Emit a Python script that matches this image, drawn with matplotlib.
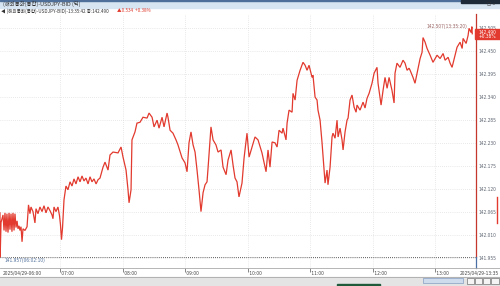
import matplotlib
matplotlib.use("Agg")
import matplotlib.pyplot as plt
from matplotlib.patches import Rectangle
from matplotlib.lines import Line2D
from matplotlib import font_manager

# USDJPY bid ticks, time = minutes after 06:00
t_min = [
    2.0, 2.17, 2.6, 3.0, 4.9, 5.9, 6.8, 7.8, 8.7, 9.7, 10.7, 11.6, 12.6, 13.5, 14.5, 15.5,
    16.4, 17.4, 18.4, 19.3, 20.3, 21.2, 22.2, 23.2, 24.1, 26.0, 28.0, 29.4, 30.8, 31.8,
    33.7, 35.6, 36.6, 38.5, 40.4, 42.4, 44.3, 46.2, 48.1, 50.1, 52.0, 52.9, 53.9, 55.8,
    57.7, 59.2, 60.1, 61.1, 62.1, 63.5,
    65.4, 67.3, 69.3, 71.2, 73.1, 75.0, 77.0, 78.9, 80.8, 82.7, 84.6, 86.6, 88.5, 90.4,
    92.3, 94.3, 96.2, 98.1,
    101.0, 102.9, 105.8, 107.7, 110.6, 115.4, 118.3, 120.2, 123.1, 125.0, 126.0, 127.9,
    128.8, 131.7, 133.6, 136.5, 139.4, 143.3, 145.2, 148.1, 150.0, 152.9, 154.8, 157.7,
    159.6, 162.5, 163.4, 165.4, 168.2, 171.1, 173.0, 176.9, 179.8, 181.7, 183.6, 185.5,
    187.5, 189.4, 191.3, 193.2, 195.1, 197.1, 199.0, 200.9, 201.9, 204.7, 206.7, 209.5,
    211.5, 214.4, 216.3, 219.2, 221.1, 224.0, 225.9, 227.8, 229.7, 231.6, 234.5, 236.5,
    239.3, 241.3,
    247.0, 249.9, 253.7, 256.6, 257.6, 259.5, 261.4, 263.4, 266.2, 268.2, 270.1, 273.0,
    273.9, 276.8, 277.8, 279.7, 282.6, 283.5, 285.5, 287.4, 290.3, 293.1, 295.1, 297.0,
    298.9, 301.8, 302.7, 304.7, 306.6, 307.5, 309.5, 311.4, 312.3, 314.3, 316.2, 317.1,
    319.1, 321.0, 321.9, 323.9, 325.8, 326.8, 328.7, 330.6, 331.6, 333.5, 335.4, 336.4,
    338.3, 340.2, 342.2, 344.1, 345.0, 347.9, 350.8, 352.7, 354.6, 356.6, 359.4, 361.4,
    364.2, 365.2, 368.1, 370.0, 371.9, 373.9, 375.8, 378.6, 380.6, 381.5, 383.4, 386.3,
    389.2, 391.1, 393.1, 395.0,
    396.0, 398.8, 400.7, 402.7, 405.6, 407.5, 408.4, 410.4, 412.3, 415.2, 418.0, 421.9,
    424.8, 427.7, 429.6, 432.5, 434.4, 436.3, 439.2, 441.1, 444.0, 446.0, 446.9, 449.8,
    451.7, 452.6, 454.6, 455.33, 455.7,
]
bid = [
    142.063, 141.957, 141.999, 142.040, 142.058, 142.021, 142.063, 142.018, 142.061, 142.016,
    142.063, 142.023, 142.061, 142.018, 142.063, 142.021, 142.061, 142.028, 142.044, 142.025,
    142.032, 142.021, 142.030, 141.994, 142.025, 142.021, 142.030, 142.082, 142.061, 142.077,
    142.066, 142.039, 142.073, 142.061, 142.077, 142.066, 142.080, 142.063, 142.077, 142.068,
    142.058, 142.049, 142.077, 142.066, 142.077, 142.056, 142.035, 141.999, 142.028, 142.094,
    142.127, 142.118, 142.137, 142.127, 142.144, 142.132, 142.149, 142.137, 142.151, 142.139,
    142.146, 142.132, 142.149, 142.137, 142.144, 142.132, 142.142, 142.146,
    142.172, 142.184, 142.165, 142.201, 142.208, 142.206, 142.220, 142.196, 142.165, 142.118,
    142.087, 142.118, 142.237, 142.256, 142.277, 142.279, 142.291, 142.289, 142.301, 142.291,
    142.268, 142.284, 142.265, 142.291, 142.268, 142.301, 142.291, 142.260, 142.253, 142.237,
    142.225, 142.194, 142.182, 142.161, 142.230, 142.256, 142.225, 142.208, 142.165, 142.118,
    142.066, 142.111, 142.130, 142.137, 142.170, 142.268, 142.237, 142.225, 142.208, 142.213,
    142.172, 142.154, 142.189, 142.213, 142.177, 142.146, 142.137, 142.101, 142.134, 142.194,
    142.253, 142.196,
    142.244, 142.237, 142.206, 142.172, 142.161, 142.213, 142.172, 142.232, 142.230, 142.220,
    142.260, 142.253, 142.265, 142.237, 142.277, 142.308, 142.303, 142.348, 142.332, 142.379,
    142.403, 142.422, 142.415, 142.403, 142.415, 142.386, 142.391, 142.339, 142.332, 142.308,
    142.284, 142.230, 142.201, 142.134, 142.165, 142.130, 142.172, 142.244, 142.253, 142.241,
    142.284, 142.244, 142.265, 142.237, 142.213, 142.256, 142.284, 142.289, 142.332, 142.344,
    142.315, 142.303, 142.320, 142.308, 142.327, 142.313, 142.336, 142.348, 142.372, 142.396,
    142.410, 142.372, 142.320, 142.355, 142.386, 142.360, 142.386, 142.355, 142.325, 142.396,
    142.420, 142.410, 142.427, 142.420, 142.403, 142.408,
    142.403, 142.386, 142.372, 142.396, 142.431, 142.446, 142.481, 142.470, 142.455, 142.439,
    142.422, 142.439, 142.431, 142.443, 142.427, 142.434, 142.420, 142.410, 142.439, 142.458,
    142.470, 142.455, 142.479, 142.467, 142.486, 142.503, 142.493, 142.507, 142.490,
]

low_t, low_p = 2.17, 141.957
high_t, high_p = 455.33, 142.507
last_p = 142.490
y_ticks = [141.955, 142.010, 142.065, 142.120, 142.175, 142.230, 142.285,
           142.340, 142.395, 142.450, 142.505]
hour_ticks = [60, 120, 180, 240, 300, 360, 420]
hour_labels = ["07:00", "08:00", "09:00", "10:00", "11:00", "12:00", "13:00"]
first_label = "2025/04/29-06:00"
last_label = "2025/04/29-13:35"
title = "(해외통화(통합)-USDJPY-BID (틱)"
status = "◀ (해외통화(통합)-USDJPY-BID)-13:35:42 종:142.490"
status_chg = "▲0.534  +0.38%"

RED = "#e23a2e"
KR = ["Noto Sans CJK KR", "DejaVu Sans"]
names = {f.name for f in font_manager.fontManager.ttflist}
if "Liberation Sans Narrow" in names:
    NUM = dict(family="Liberation Sans Narrow", size=4.2)
else:
    NUM = dict(family="DejaVu Sans", stretch="condensed", size=3.5)

W, H = 500, 286
def fx(x):
    return x / W
def fy(y):
    return 1 - y / H

fig = plt.figure(figsize=(5, 2.86), dpi=100)
fig.patch.set_facecolor("white")

ax = fig.add_axes([0, fy(268), fx(476), (268 - 13.5) / H])
ax.plot(t_min, bid, color=RED, lw=0.9, solid_joinstyle="miter")
ax.set_xlim(2.02, 459.3)
ax.set_ylim(141.9315, 142.5384)
ax.axhline(low_p, color="#333333", lw=0.6, ls=(0, (1, 1.5)))

ax.set_yticks(y_ticks)
ax.set_yticklabels([f"{v:.3f}" for v in y_ticks], color="#5c6470", **NUM)
ax.yaxis.tick_right()
ax.tick_params(axis="y", length=0, pad=2.0)
ax.set_xticks(hour_ticks)
ax.set_xticklabels([" " + s for s in hour_labels], ha="left", color="#444444", **NUM)
ax.tick_params(axis="x", direction="out", length=2.6, width=0.5, color="#555555", pad=-0.3)
ax.grid(True, color="#d4d4d4", lw=0.5, ls=(0, (1, 2)))
for s in ax.spines.values():
    s.set_visible(False)

# high / low markers
ax.annotate(f"{high_p:.3f}(13:35:20)", (high_t, high_p), xytext=(-3, 0),
            textcoords="offset points", ha="right", va="center", color="#9a6464", **NUM)
ax.annotate(f"{low_p:.3f}(06:02:10)", (low_t, low_p), xytext=(3.0, -2.6),
            textcoords="offset points", ha="left", va="center", color="#4f6f9a", **NUM)

# header bars
fig.patches.append(Rectangle((0, fy(7.5)), 1, 7.5 / H, transform=fig.transFigure,
                             color="#d7e4f1", zorder=0))
fig.patches.append(Rectangle((0, fy(1)), 1, 1 / H, transform=fig.transFigure,
                             color="#4d6f99", zorder=1))
fig.patches.append(Rectangle((fx(461), fy(2.7)), 39 / W, 2.7 / H, transform=fig.transFigure,
                             color="#1e2a38", zorder=1))
fig.text(fx(3), fy(4.4), title, family=KR, size=3.9, va="center", color="#333333")
fig.text(fx(487), fy(4.6), "□ x", family="DejaVu Sans", size=3.2, va="center", color="#333333")
fig.text(fx(1), fy(11), status, family=KR, size=3.3, va="center", color="#333333")
fig.text(fx(117), fy(11), status_chg, family=KR, size=3.3, va="center", color=RED)

# right axis line and current price box
fig.lines.append(Line2D([fx(476), fx(476)], [fy(13.5), fy(257.3)], transform=fig.transFigure,
                        color="#c4372d", lw=0.9))
fig.lines.append(Line2D([fx(476), fx(476)], [fy(257.3), fy(268)], transform=fig.transFigure,
                        color="#4a6fa5", lw=0.9))
fig.lines.append(Line2D([fx(496.7), fx(496.7)], [fy(197), fy(223)], transform=fig.transFigure,
                        color=RED, lw=1.0))
fig.patches.append(Rectangle((fx(475), fy(39.4)), 25 / W, 10.0 / H, transform=fig.transFigure,
                             color=RED, zorder=3))
fig.text(fx(479), fy(32.0), f"{last_p:.3f}", color="white", va="center", zorder=4, **NUM)
fig.text(fx(479), fy(36.9), "+0.38%", color="white", va="center", zorder=4, **NUM)

# time axis row and scroll bar
fig.lines.append(Line2D([0, 1], [fy(268.4), fy(268.4)], transform=fig.transFigure,
                        color="#a9a9a9", lw=0.6))
fig.lines.append(Line2D([0, 1], [fy(276.8), fy(276.8)], transform=fig.transFigure,
                        color="#a9a9a9", lw=0.6))
fig.text(fx(2.5), fy(272.8), first_label, color="#444444", va="center", **NUM)
fig.text(fx(498.5), fy(272.8), last_label, color="#444444", va="center", ha="right", **NUM)
fig.patches.append(Rectangle((0, 0), 1, fy(277.2), transform=fig.transFigure,
                             color="#e4e4e4", zorder=0))
fig.patches.append(Rectangle((fx(423), fy(283)), 40 / W, 5 / H, transform=fig.transFigure,
                             facecolor="#cfdcee", edgecolor="#6f8db8", lw=0.4, zorder=2))
for bx in [467, 475, 483]:
    fig.patches.append(Rectangle((fx(bx), fy(283.5)), 6.5 / W, 5.5 / H, transform=fig.transFigure,
                                 facecolor="#f4f4f4", edgecolor="#555555", lw=0.4, zorder=2))
fig.patches.append(Rectangle((fx(491), fy(283.5)), 8 / W, 5.5 / H, transform=fig.transFigure,
                             facecolor="#f4f4f4", edgecolor="#555555", lw=0.4, zorder=2))
fig.patches.append(Rectangle((fx(337), 0), 43 / W, 2.5 / H, transform=fig.transFigure,
                             color="#1f5b3b", zorder=2))

fig.savefig("out.png", dpi=100)
